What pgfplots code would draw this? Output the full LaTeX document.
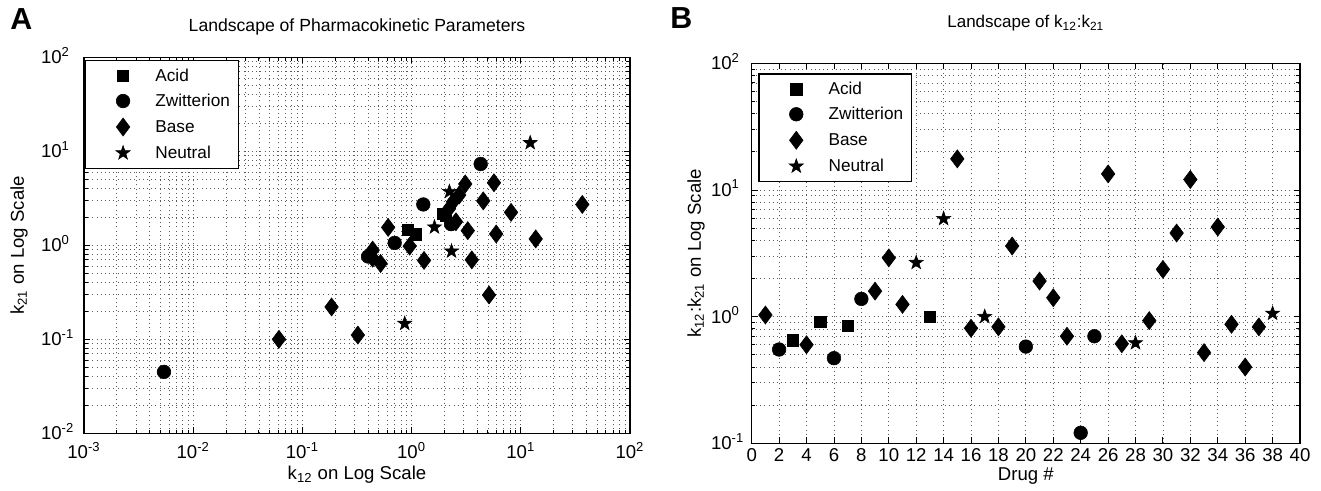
\documentclass[border=0pt]{standalone}
\usepackage{fontspec}
\setmainfont{Liberation Sans}
\usepackage{pgfplots}
\pgfplotsset{compat=1.18}

% filled five-pointed star (MATLAB pentagram)
\pgfdeclareplotmark{fstar}{%
  \pgfpathmoveto{\pgfpointpolar{90}{\pgfplotmarksize}}%
  \pgfpathlineto{\pgfpointpolar{126}{0.4\pgfplotmarksize}}%
  \pgfpathlineto{\pgfpointpolar{162}{\pgfplotmarksize}}%
  \pgfpathlineto{\pgfpointpolar{198}{0.4\pgfplotmarksize}}%
  \pgfpathlineto{\pgfpointpolar{234}{\pgfplotmarksize}}%
  \pgfpathlineto{\pgfpointpolar{270}{0.4\pgfplotmarksize}}%
  \pgfpathlineto{\pgfpointpolar{306}{\pgfplotmarksize}}%
  \pgfpathlineto{\pgfpointpolar{342}{0.4\pgfplotmarksize}}%
  \pgfpathlineto{\pgfpointpolar{18}{\pgfplotmarksize}}%
  \pgfpathlineto{\pgfpointpolar{54}{0.4\pgfplotmarksize}}%
  \pgfpathclose\pgfusepathqfillstroke}

\pgfplotsset{
  matlab/.style={
    scale only axis,
    anchor=north west,
    axis line style={line width=0.7pt},
    tick align=inside,
    major tick length=3pt, minor tick length=1.8pt,
    tick style={line width=0.45pt, black},
    grid style={black!65, line width=0.4pt, dash pattern=on 0.5pt off 1.6pt},
    ticklabel style={font=\fontsize{9.3}{10}\selectfont},
    label style={font=\fontsize{9.3}{10}\selectfont},
    title style={font=\fontsize{8.8}{10}\selectfont, anchor=base},
    /pgf/number format/assume math mode=true,
    legend cell align=left,
    legend style={anchor=north west, draw=black, line width=0.7pt,
      font=\fontsize{8.6}{10}\selectfont,
      inner xsep=4.3pt, inner ysep=3.7pt, row sep=4.5pt, column sep=1.8pt,
      nodes={inner sep=0pt, text height=6.5pt, text depth=1.5pt}},
  },
  logy/.style={
    log basis y=10,
    yticklabel={\pgfmathtruncatemacro{\e}{round(\tick)}\llap{10}\rlap{\textsuperscript{\e}}},
    yticklabel style={anchor=base, inner sep=0pt, yshift=-3.3pt},
  },
  pt/.style={only marks, mark options={solid, fill=black, draw=black, line width=0.3pt},
    legend image code/.code={\path (0pt,0pt) (28pt,0pt); \draw[##1] plot coordinates {(14pt,0pt)};}},
  acid/.style={pt, mark=square*, mark size=2.8pt},
  zwit/.style={pt, mark=*, mark size=3.4pt},
  base/.style={pt, mark=diamond*, mark size=4.5pt},
  neut/.style={pt, mark=fstar, mark size=3.7pt},
}

\begin{document}
\begin{tikzpicture}
\path[use as bounding box] (0pt,0pt) rectangle (660.5pt,-245.5pt);

\node[anchor=base west, inner sep=0pt, font=\fontsize{15.2}{16}\selectfont\bfseries] at (5pt,-15pt) {A};
\node[anchor=base west, inner sep=0pt, font=\fontsize{15.2}{16}\selectfont\bfseries] at (335pt,-14.2pt) {B};

% ---------------- panel A ----------------
\begin{axis}[matlab, logy,
  at={(42pt,-28.65pt)}, width=273pt, height=188pt,
  xmode=log, ymode=log, log basis x=10,
  xmin=1e-3, xmax=1e2, ymin=1e-2, ymax=1e2,
  grid=both,
  xticklabel={\pgfmathtruncatemacro{\e}{round(\tick)}10\textsuperscript{\e}},
  xticklabel style={anchor=north, inner sep=0pt, yshift=-4.2pt},
  yticklabel style={xshift=-11.15pt},
  title={Landscape of Pharmacokinetic Parameters},
  title style={at={(0.5,1.0372)}},
  xlabel={k\textsubscript{12} on Log Scale},
  xlabel style={at={(0.5,-0.1242)}, anchor=base},
  ylabel={k\textsubscript{21} on Log Scale},
  ylabel style={at={(-0.1099,0.5)}, anchor=base},
  legend style={at={(0.002,0.993)}},
]
\addplot[acid] coordinates {(0.92,1.46) (1.10,1.31) (1.95,2.15) (2.05,2.05)};
\addlegendentry{Acid}
\addplot[zwit] coordinates {(0.0054,0.045) (0.40,0.76) (0.70,1.06) (1.28,2.72) (4.29,7.33) (2.30,1.68)};
\addlegendentry{Zwitterion}
\addplot[base] coordinates {
  (3.10,4.49) (5.68,4.63) (2.73,3.43) (2.40,2.91) (4.53,2.97) (8.14,2.24)
  (36.6,2.72) (0.61,1.55) (3.27,1.43) (5.95,1.32) (13.7,1.17) (0.96,0.98)
  (0.44,0.89) (0.52,0.64) (1.30,0.69) (3.56,0.70) (5.12,0.296) (0.185,0.221)
  (0.322,0.111) (0.061,0.100) (2.55,1.78) (0.44,0.73) (2.20,2.45)};
\addlegendentry{Base}
\addplot[neut] coordinates {(12.2,12.3) (2.22,3.72) (1.62,1.56) (2.32,0.865) (0.865,0.147)};
\addlegendentry{Neutral}
\end{axis}

% ---------------- panel B ----------------
\begin{axis}[matlab, logy,
  at={(375.85pt,-31.65pt)}, width=274.15pt, height=190pt,
  ymode=log,
  xmin=0, xmax=40, ymin=1e-1, ymax=1e2,
  xtick={0,2,...,40},
  xmajorgrids, ymajorgrids, yminorgrids,
  xticklabel style={anchor=north, inner sep=0pt, yshift=-2.35pt},
  yticklabel style={xshift=-10pt},
  title={Landscape of k\textsubscript{12}:k\textsubscript{21}},
  title style={at={(0.5,1.0616)}, font=\fontsize{8.5}{10}\selectfont},
  xlabel={Drug \#},
  xlabel style={at={(0.5,-0.0966)}, anchor=base},
  ylabel={k\textsubscript{12}:k\textsubscript{21} on Log Scale},
  ylabel style={at={(-0.0925,0.5)}, anchor=base},
  legend style={at={(0.012,0.974)}},
]
\addplot[acid] coordinates {(3,0.65) (5,0.91) (7,0.85) (13,1.0)};
\addlegendentry{Acid}
\addplot[zwit] coordinates {(2,0.55) (6,0.47) (8,1.38) (20,0.58) (24,0.121) (25,0.70)};
\addlegendentry{Zwitterion}
\addplot[base] coordinates {
  (1,1.03) (4,0.60) (9,1.59) (10,2.91) (11,1.25) (15,17.6) (16,0.81)
  (18,0.83) (19,3.61) (21,1.91) (22,1.41) (23,0.70) (26,13.4) (27,0.61)
  (29,0.93) (30,2.36) (31,4.57) (32,12.1) (33,0.52) (34,5.10) (35,0.87)
  (36,0.40) (37,0.83)};
\addlegendentry{Base}
\addplot[neut] coordinates {(12,2.67) (14,5.93) (17,1.0) (28,0.62) (38,1.06)};
\addlegendentry{Neutral}
\end{axis}
\end{tikzpicture}
\end{document}
